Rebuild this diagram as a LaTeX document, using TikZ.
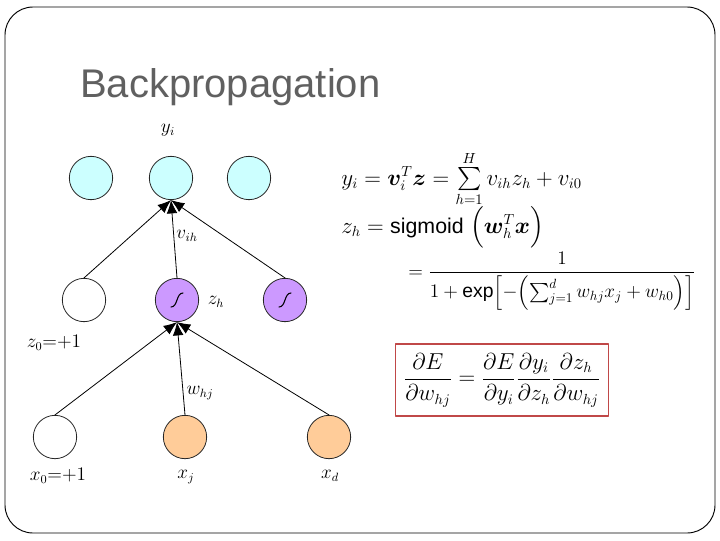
\documentclass[tikz,border=0pt]{standalone}
\usepackage{amsmath}
\usepackage{bm}
\usepackage{fontspec}
\setmainfont{Liberation Sans}
\usetikzlibrary{arrows.meta}

\definecolor{outcyan}{HTML}{CCFFFF}
\definecolor{hidpurple}{HTML}{CC99FF}
\definecolor{inorange}{HTML}{FFCC99}
\definecolor{titlegray}{HTML}{606060}
\definecolor{boxred}{HTML}{C04848}

\begin{document}
\begin{tikzpicture}[
  x=0.75pt,y=-0.75pt,
  line cap=round,line join=round,
  >={Latex[length=10pt,width=8pt]},
  unit/.style={circle,draw=black!85,line width=0.6pt,minimum size=32.5pt,inner sep=0pt},
  outunit/.style={unit,fill=outcyan},
  hidunit/.style={unit,fill=hidpurple},
  inunit/.style={unit,fill=inorange},
  biasunit/.style={unit,fill=white},
  link/.style={->,line width=0.6pt},
  lbl/.style={font=\fontsize{13.5}{16}\selectfont,inner sep=0pt},
  eqn/.style={font=\fontsize{16}{19}\selectfont,inner sep=0pt},
  sigm/.pic={\draw[line width=0.8pt] (-6,7) .. controls (1,7) and (-1,-7) .. (6,-7);}
]
  \useasboundingbox (0,0) rectangle (720,540);

  % Slide frame + title
  \draw[line width=0.7pt,rounded corners=21pt] (5,7) rectangle (715,533);
  \node[anchor=base west,inner sep=0pt,text=titlegray,font=\fontsize{30}{36}\selectfont] (title) at (80,97) {Backpropagation};

  % Output layer
  \node[outunit] (y1) at (91,178) {};
  \node[outunit] (yi) at (171,178) {};
  \node[outunit] (y3) at (249,178) {};

  % Hidden layer
  \node[biasunit] (z0) at (84,300) {};
  \node[hidunit] (zh) at (177,300) {};
  \node[hidunit] (z2) at (285,300) {};
  \pic at (zh) {sigm};
  \pic at (z2) {sigm};

  % Input layer
  \node[biasunit] (x0) at (55,437) {};
  \node[inunit] (xj) at (185,437) {};
  \node[inunit] (xd) at (329,437) {};

  % Connections
  \foreach \s in {z0,zh,z2} \draw[link] (\s.north) -- (yi.south);
  \foreach \s in {x0,xj,xd} \draw[link] (\s.north) -- (zh.south);

  % Unit and weight labels
  \node[lbl] (lyi) at (168,130) {$y_i$};
  \node[lbl] (lvih) at (187,236) {$v_{ih}$};
  \node[lbl] (lzh) at (216,302) {$z_h$};
  \node[lbl] (lz0) at (54,343) {$z_0{=}{+}1$};
  \node[lbl] (lwhj) at (200,393) {$w_{hj}$};
  \node[lbl] (lx0) at (58,476) {$x_0{=}{+}1$};
  \node[lbl] (lxj) at (186,477) {$x_j$};
  \node[lbl] (lxd) at (330,476) {$x_d$};

  % Equations
  \node[eqn,anchor=base west] (eq1) at (341,185)
    {$y_i=\bm{v}_i^T\bm{z}=\sum\limits_{h=1}^{H}v_{ih}z_h+v_{i0}$};
  \node[eqn,anchor=base west] (eq2) at (341,233)
    {$z_h=\text{sigmoid}\;\Bigl(\bm{w}_h^T\bm{x}\Bigr)$};
  \node[eqn,font=\fontsize{14.5}{17}\selectfont,anchor=west] (eq3) at (408,281)
    {$\displaystyle =\frac{1}{1+\exp\Bigl[-\Bigl(\sum\nolimits_{j=1}^{d}w_{hj}x_j+w_{h0}\Bigr)\Bigr]}$};

  % Chain rule box
  \node[eqn,draw=boxred,line width=0.8pt,minimum width=160pt,minimum height=54pt] (grad) at (502,380)
    {$\displaystyle \frac{\partial E}{\partial w_{hj}}=\frac{\partial E}{\partial y_i}\frac{\partial y_i}{\partial z_h}\frac{\partial z_h}{\partial w_{hj}}$};
\end{tikzpicture}
\end{document}
